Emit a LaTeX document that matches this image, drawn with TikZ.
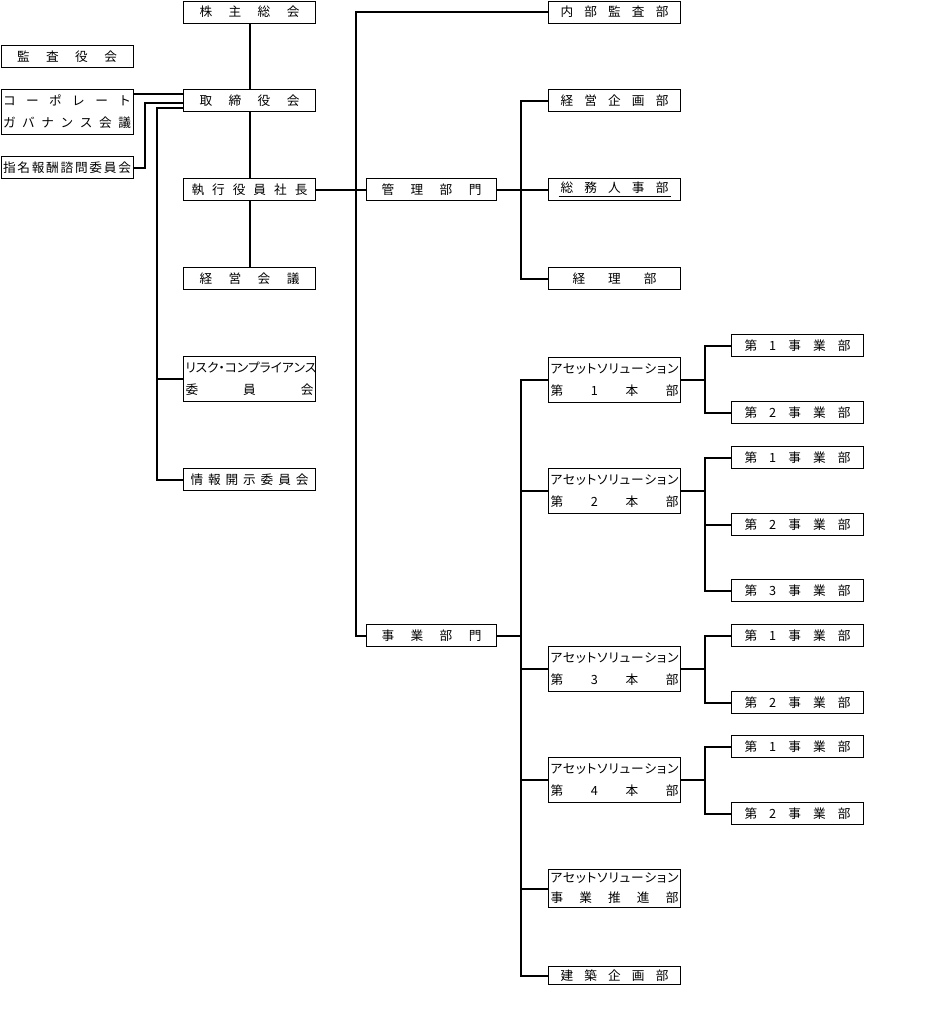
\documentclass[tikz,border=0pt]{standalone}
\usepackage{fontspec}
\setmainfont{Noto Sans CJK JP}
\newfontfamily\kanafont[RawFeature=+palt]{Noto Sans CJK JP}
\usetikzlibrary{calc}
\newcommand\lbl[3][96pt]{\hbox to #1{\hskip#2\relax#3\hskip#2\relax}}
\newcommand\twolines[3][16.5pt]{\vbox{\baselineskip=#1\relax\lbl{0pt}{#2}\lbl{0pt}{#3}}}
\newcommand\asline{\kanafont ア\hfil セ\hfil ッ\hfil ト\hfil ソ\hfil リ\hfil ュ\hfil ー\hfil シ\hfil ョ\hfil ン}

\begin{document}
\begin{tikzpicture}[x=0.75pt, y=-0.75pt,
  box/.style={draw, line width=0.75pt, anchor=north west, inner sep=0pt, minimum width=99pt, minimum height=16.5pt, font=\fontsize{9.5}{11}\selectfont},
  tallbox/.style={box, minimum height=33.75pt},
  conn/.style={line width=1.5pt}
]
\useasboundingbox (0,0) rectangle (937,1014);

\node[box] (kabu) at (183,0.5) {\lbl{10.5pt}{株\hfil 主\hfil 総\hfil 会}};
\node[box] (kansa) at (0.5,45) {\lbl{10.5pt}{監\hfil 査\hfil 役\hfil 会}};
\node[tallbox] (cg) at (0.5,89) {\twolines{コ\hfil ー\hfil ポ\hfil レ\hfil ー\hfil ト}{ガ\hfil バ\hfil ナ\hfil ン\hfil ス\hfil 会\hfil 議}};
\node[box] (shimei) at (0.5,156) {\lbl{0pt}{指\hfil 名\hfil 報\hfil 酬\hfil 諮\hfil 問\hfil 委\hfil 員\hfil 会}};
\node[box] (tori) at (183,89) {\lbl{10.5pt}{取\hfil 締\hfil 役\hfil 会}};
\node[box] (shacho) at (183,178) {\lbl{4.5pt}{執\hfil 行\hfil 役\hfil 員\hfil 社\hfil 長}};
\node[box] (keiei) at (183,267) {\lbl{10.5pt}{経\hfil 営\hfil 会\hfil 議}};
\node[tallbox] (risk) at (183,356) {\twolines{\kanafont リ\hfil ス\hfil ク\hfil ・\hfil コ\hfil ン\hfil プ\hfil ラ\hfil イ\hfil ア\hfil ン\hfil ス}{委\hfil 員\hfil 会}};
\node[box] (joho) at (183,468) {\lbl{3.75pt}{情\hfil 報\hfil 開\hfil 示\hfil 委\hfil 員\hfil 会}};

\node[box] (naibu) at (548,0.5) {\lbl{7.5pt}{内\hfil 部\hfil 監\hfil 査\hfil 部}};
\node[box, minimum width=97.5pt] (kanri) at (366,178) {\lbl[94.5pt]{9.75pt}{管\hfil 理\hfil 部\hfil 門}};
\node[box] (kikaku) at (548,89) {\lbl{7.5pt}{経\hfil 営\hfil 企\hfil 画\hfil 部}};
\node[box] (soumu) at (548,178) {\lbl{6pt}{\underline{\hbox to 84pt{\hskip1.5pt 総\hfil 務\hfil 人\hfil 事\hfil 部\hskip1.5pt}}}};
\node[box] (keiri) at (548,267) {\lbl{16.5pt}{経\hfil 理\hfil 部}};
\node[box, minimum width=97.5pt] (jigyo) at (366,624) {\lbl[94.5pt]{9.75pt}{事\hfil 業\hfil 部\hfil 門}};

\foreach \n/\y in {1/357,2/468,3/646,4/757}
  \node[tallbox] (as\n) at (548,\y) {\twolines{\asline}{第\hfil \n\hfil 本\hfil 部}};
\node[tallbox, minimum height=28.5pt] (suishin) at (548,869) {\twolines[15pt]{\asline}{事\hfil 業\hfil 推\hfil 進\hfil 部}};
\node[box, minimum height=13.5pt] (kenchiku) at (548,966) {\lbl{7.5pt}{建\hfil 築\hfil 企\hfil 画\hfil 部}};

\foreach \n/\m/\y in {1/1/334,1/2/401,2/1/446,2/2/513,2/3/579,3/1/624,3/2/691,4/1/735,4/2/802}
  \node[box] (c\n\m) at (731,\y) {\lbl{8.25pt}{第\hfil \m\hfil 事\hfil 業\hfil 部}};

\coordinate (sx) at (145,0);
\coordinate (lx) at (157,0);
\coordinate (mx) at (356,0);
\coordinate (kx) at (521,0);
\coordinate (bx) at (705,0);
\coordinate (t1) at ($(tori.north west)+(0,5)$);
\coordinate (t2) at ($(tori.north west)+(0,14)$);
\coordinate (t3) at ($(tori.north west)+(0,19)$);

\draw[conn] (kabu) -- (tori);
\draw[conn] (tori) -- (shacho);
\draw[conn] (shacho) -- (keiei);
\draw[conn] (cg.east |- t1) -- (t1);
\draw[conn] (shimei.east) -| (sx |- t2) -- (t2);
\draw[conn] (t3) -| (lx |- joho.west) -- (joho.west);
\draw[conn] (lx |- risk.west) -- (risk.west);

\draw[conn] (shacho.east) -- (kanri.west);
\draw[conn] (naibu.west) -| (mx |- jigyo.west) -- (jigyo.west);
\draw[conn] (kanri.east) -- (soumu.west);
\draw[conn] (kikaku.west) -| (kx |- keiri.west) -- (keiri.west);
\draw[conn] (jigyo.east) -- (kx |- jigyo.east);
\draw[conn] (as1.west) -| (kx |- kenchiku.west) -- (kenchiku.west);
\foreach \b in {as2,as3,as4,suishin}
  \draw[conn] (kx |- \b.west) -- (\b.west);

\foreach \n/\m in {1/2,2/3,3/2,4/2} {
  \draw[conn] (as\n.east) -- (bx |- as\n.east);
  \draw[conn] (c\n1.west) -| (bx |- c\n\m.west) -- (c\n\m.west);
}
\draw[conn] (bx |- c22.west) -- (c22.west);
\end{tikzpicture}
\end{document}
